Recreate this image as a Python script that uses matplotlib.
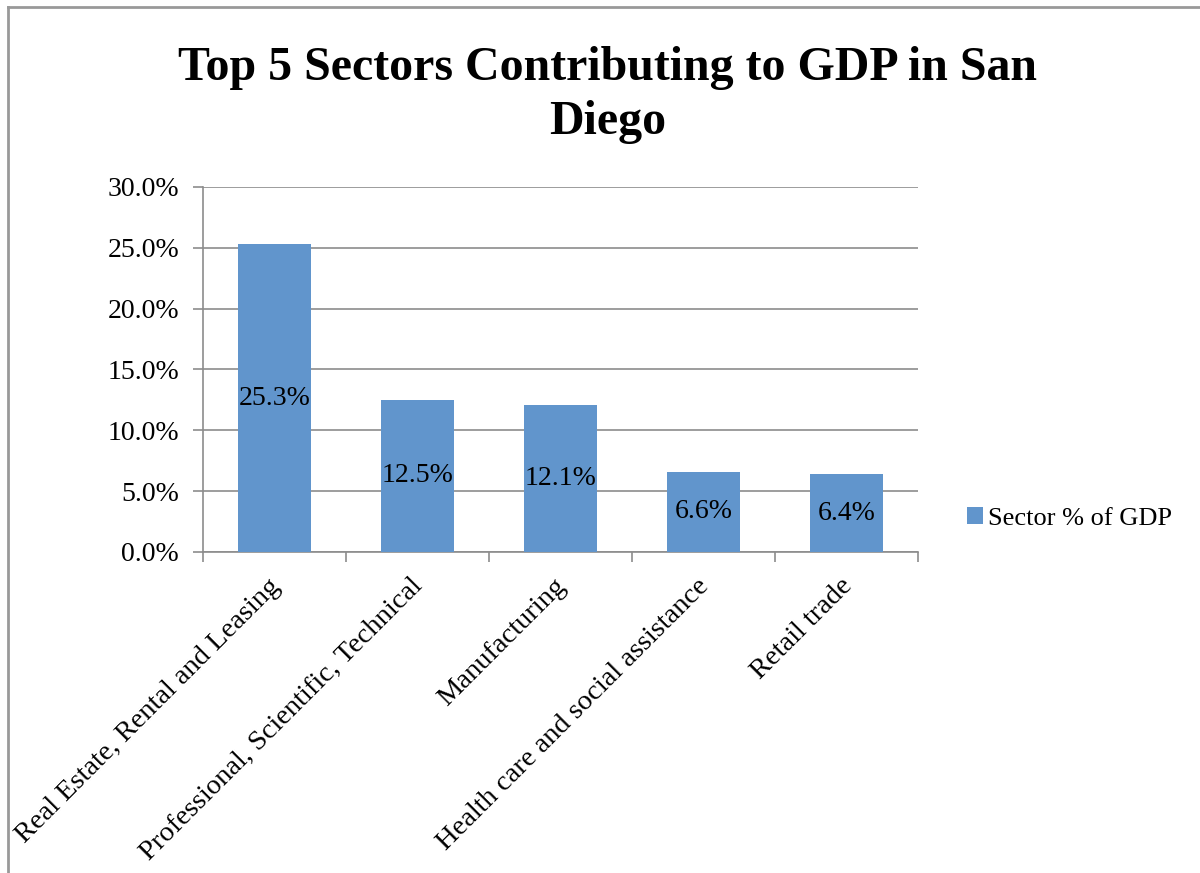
import matplotlib.pyplot as plt
from matplotlib.lines import Line2D
from matplotlib.ticker import FuncFormatter, FixedLocator

sectors = ['Real Estate, Rental and Leasing',
           'Professional, Scientific, Technical',
           'Manufacturing',
           'Health care and social assistance',
           'Retail trade']
share = [25.3, 12.5, 12.1, 6.6, 6.4]
series_name = 'Sector % of GDP'

plt.rcParams['font.family'] = ['Liberation Serif', 'DejaVu Serif']

fig = plt.figure(figsize=(12, 8.73), dpi=100)
ax = fig.add_axes([0.169, 0.3677, 0.596, 0.4181])

x = range(len(sectors))
bars = ax.bar(x, share, width=0.51, color='#6195CC', label=series_name, zorder=3)
for b, v in zip(bars, share):
    ax.text(b.get_x() + b.get_width() / 2, v / 2, f'{v:.1f}%',
            ha='center', va='center', fontsize=20, zorder=4)

ax.set_ylim(0, 30)
ax.set_xlim(-0.5, len(sectors) - 0.5)
ax.set_yticks(range(0, 31, 5))
ax.yaxis.set_major_formatter(FuncFormatter(lambda v, p: f'{v:.1f}%'))
ax.grid(axis='y', color='#8c8c8c', linewidth=1.2, zorder=0)
ax.tick_params(axis='y', labelsize=20, length=7, color='#8c8c8c', width=1.2, pad=10)

# ticks between categories, labels at bar centres
ax.xaxis.set_major_locator(FixedLocator([i - 0.5 for i in range(len(sectors) + 1)]))
ax.xaxis.set_major_formatter(FuncFormatter(lambda v, p: ''))
ax.tick_params(axis='x', length=7, color='#8c8c8c', width=1.2)
for i, name in enumerate(sectors):
    ax.text(i - 0.05, -0.06, name, transform=ax.get_xaxis_transform(),
            rotation=45, ha='right', va='top', rotation_mode='anchor', fontsize=20.5)

for s in ['top', 'right']:
    ax.spines[s].set_visible(False)
for s in ['left', 'bottom']:
    ax.spines[s].set_color('#8c8c8c')
    ax.spines[s].set_linewidth(1.2)

fig.text(0.506, 0.891, 'Top 5 Sectors Contributing to GDP in San\nDiego',
         ha='center', va='center', fontsize=34.5, fontweight='bold',
         linespacing=1.3)

fig.legend(handles=[bars], labels=[series_name], loc='center left',
           bbox_to_anchor=(0.786, 0.406), frameon=False, fontsize=19,
           handlelength=0.6, handleheight=0.6, handletextpad=0.2)

# chart border
fig.add_artist(Line2D([0.0065, 1.0], [0.992, 0.992], color='#999999', linewidth=2,
                      transform=fig.transFigure))
fig.add_artist(Line2D([0.0065, 0.0065], [0.0, 0.992], color='#999999', linewidth=2,
                      transform=fig.transFigure))

fig.savefig('out.png', dpi=100)
